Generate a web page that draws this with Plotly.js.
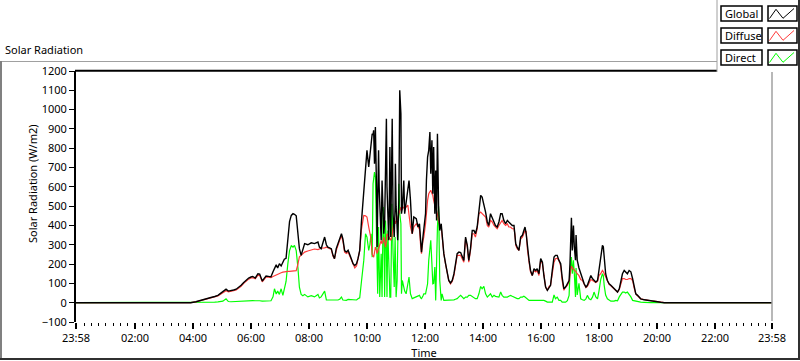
<!DOCTYPE html>
<html>
<head>
<meta charset="utf-8">
<script src="https://cdn.plot.ly/plotly-3.0.1.min.js"></script>
<style>html,body{margin:0;padding:0;background:#fff;}#chart{width:800px;height:361px;}</style>
</head>
<body>
<div id="chart"></div>
<script>
// Time in hours since midnight (-0.0333 = 23:58 of the previous day)
const timeHours = [-0.0333,3.92,4.10,4.28,4.45,4.62,4.75,4.86,4.95,5.03,5.14,5.22,5.31,5.40,5.49,5.58,5.66,5.75,5.83,5.92,6.00,6.06,6.15,6.24,6.30,6.39,6.45,6.52,6.60,6.69,6.76,6.81,6.87,6.92,6.98,7.04,7.10,7.15,7.21,7.27,7.33,7.39,7.45,7.50,7.56,7.62,7.67,7.73,7.79,7.85,7.96,8.08,8.19,8.31,8.36,8.42,8.54,8.60,8.65,8.77,8.83,8.88,8.94,9.00,9.06,9.12,9.17,9.23,9.29,9.35,9.46,9.52,9.58,9.64,9.69,9.75,9.81,
9.89,9.95,10.00,10.06,10.10,10.14,10.18,10.21,10.23,10.26,10.29,10.33,10.35,10.37,10.40,10.42,10.44,10.49,10.52,10.56,10.58,10.61,10.64,10.67,10.69,10.72,10.75,10.77,10.79,10.82,10.86,10.87,10.90,10.94,10.97,10.98,11.005,11.04,11.06,11.10,11.13,11.17,11.19,11.22,11.27,11.30,11.35,11.41,11.45,11.50,11.56,11.615,11.70,11.76,11.81,11.85,11.88,11.93,11.96,12.02,12.05,12.09,12.13,12.17,12.20,12.24,12.27,12.30,12.34,12.37,12.40,12.43,12.47,12.51,12.56,12.59,12.65,12.71,12.77,12.82,12.88,12.94,13.00,13.05,13.11,13.17,13.23,
13.34,13.40,13.46,13.51,13.57,13.63,13.69,13.74,13.80,13.86,13.92,13.97,14.03,14.09,14.15,14.20,14.26,14.32,14.38,14.43,14.49,14.55,14.61,14.66,14.72,14.78,14.84,14.89,14.95,15.01,15.07,15.10,15.13,15.18,15.24,15.30,15.36,15.41,15.45,15.49,15.53,15.59,15.64,15.70,15.76,15.82,15.87,15.93,15.99,16.05,16.10,16.16,16.22,16.28,16.33,16.39,16.45,16.50,16.56,16.62,16.68,16.73,16.79,16.85,16.91,16.97,17.00,17.05,17.08,17.12,17.15,17.19,17.21,17.25,17.31,17.37,17.43,17.49,17.55,17.60,17.66,17.72,17.78,17.83,17.89,17.95,18.00,18.06,18.12,18.15,18.18,18.23,18.29,18.35,18.41,18.47,18.52,18.58,18.64,18.70,18.75,18.81,18.87,18.92,18.98,19.04,19.10,19.16,19.21,19.27,19.33,19.39,19.44,19.56,19.67,19.79,19.90,20.02,20.13,20.25,23.9667];

const globalRad = [0,0,5,14,20,27,32,38,48,58,70,60,62,66,70,80,90,105,118,128,133,136,128,150,148,112,125,138,136,134,160,176,196,180,202,190,215,225,230,330,420,452,461,458,450,357,280,245,280,306,300,310,306,314,288,280,340,300,288,280,245,228,280,306,330,357,330,270,262,271,228,202,193,202,228,271,420,
582,737,789,703,772,849,875,870,893,720,910,582,288,500,789,600,495,323,633,500,357,420,720,953,600,409,323,500,806,340,700,953,461,340,500,720,500,392,323,530,1100,979,461,495,633,461,513,582,633,530,357,444,435,392,409,323,262,340,374,461,633,754,789,884,668,841,564,806,461,685,426,875,495,374,409,340,254,202,150,115,102,115,150,193,254,262,260,
219,340,297,219,280,374,374,357,392,495,556,547,513,469,418,400,461,435,418,400,392,418,461,461,426,409,426,418,409,400,400,357,305,288,271,340,349,374,392,357,288,219,167,141,176,167,176,150,228,210,141,81,64,81,90,167,236,245,245,219,202,133,72,81,98,115,200,440,270,400,290,220,350,220,180,150,130,98,81,90,115,141,124,115,107,115,167,236,297,290,219,150,115,98,90,81,72,64,55,72,115,150,167,160,150,167,160,124,81,46,38,29,20,15,12,8,6,5,2,0,0];

const diffuseRad = [0,0,4,12,18,25,30,35,44,52,62,56,58,62,66,75,85,100,112,122,128,130,124,143,142,108,120,134,132,130,136,140,142,145,150,155,158,160,160,162,162,163,164,165,166,200,238,245,255,262,268,275,278,275,280,282,284,288,285,275,240,228,270,300,325,345,320,262,255,262,220,195,180,190,220,270,380,
452,450,444,392,360,330,250,245,236,260,288,270,254,265,280,285,300,323,305,320,340,310,288,320,357,350,340,335,330,323,340,357,400,440,420,409,420,426,440,461,480,495,478,485,495,495,495,505,461,392,357,392,409,390,380,297,254,320,340,409,470,530,564,575,582,565,556,530,495,485,478,460,426,400,392,340,254,200,141,115,98,110,141,190,245,245,245,
210,332,288,210,271,357,357,340,383,461,469,461,452,444,400,392,426,418,400,392,383,400,418,426,409,400,409,392,392,383,383,355,297,280,271,331,340,366,374,368,280,210,159,141,167,159,167,141,219,202,133,81,64,84,90,150,210,228,230,219,190,115,64,81,90,110,150,190,180,175,170,165,160,150,140,120,115,95,78,85,100,120,115,110,104,110,140,150,167,160,150,140,115,95,88,78,70,62,55,68,100,125,125,120,120,125,125,115,78,45,36,28,20,16,12,10,8,6,3,0,0];

const directRad = [0,0,1,2,2,3,3,4,5,8,20,6,5,6,6,7,8,8,9,10,10,11,10,12,10,8,9,10,10,10,30,72,45,60,43,72,38,72,110,200,270,295,288,297,270,180,80,43,36,43,30,36,30,43,25,30,60,14,14,12,12,14,12,14,18,29,14,14,12,17,16,12,14,14,20,25,110,
219,357,340,271,300,357,236,616,660,677,651,357,288,46,392,200,29,254,29,495,426,29,426,300,29,374,200,64,29,29,513,450,254,81,340,200,29,115,300,616,461,409,46,115,81,60,46,115,133,46,21,25,29,33,38,25,21,35,46,46,70,98,219,300,323,200,98,100,185,12,250,392,500,115,12,46,12,12,12,12,12,15,15,18,21,30,38,
21,29,29,38,38,33,29,21,21,46,84,72,84,46,29,38,46,29,38,33,29,29,55,38,29,29,29,33,38,33,29,25,25,21,21,29,29,33,29,25,21,12,12,12,12,12,15,12,12,12,12,8,3,3,3,3,40,21,29,12,12,3,3,3,10,38,150,236,150,219,150,30,180,40,100,20,15,12,20,38,20,15,30,55,30,20,60,120,150,140,90,40,20,12,8,8,8,12,10,30,40,55,55,50,55,45,30,12,10,8,5,3,3,2,0,0,0,0,0,0,0];

const tickHours = [-0.0333,2,4,6,8,10,12,14,16,18,20,22,23.9667];
const tickLabels = ['23:58','02:00','04:00','06:00','08:00','10:00','12:00','14:00','16:00','18:00','20:00','22:00','23:58'];
const yTicks = [-100,0,100,200,300,400,500,600,700,800,900,1000,1100,1200];
const seriesNames = ['Global','Diffuse','Direct'];
const seriesColors = ['#000000','#ff3a3a','#00ff00'];

// geometry helpers (pixel -> paper)
const L = 76, T = 71, W = 696, H = 251;
const px = x => (x - L) / W;
const py = y => 1 - (y - T) / H;

const FONT = '"Noto Sans", "Open Sans", sans-serif';

const traces = [
  {x: timeHours, y: directRad, name: seriesNames[2], type: 'scatter', mode: 'lines', line: {color: seriesColors[2], width: 1.2}},
  {x: timeHours, y: diffuseRad, name: seriesNames[1], type: 'scatter', mode: 'lines', line: {color: seriesColors[1], width: 1.2}},
  {x: timeHours, y: globalRad, name: seriesNames[0], type: 'scatter', mode: 'lines', line: {color: seriesColors[0], width: 1.4}}
];

const shapes = [];
const line = (x0,y0,x1,y1,color,width) => shapes.push({type:'line', xref:'paper', yref:'paper', x0:px(x0), y0:py(y0), x1:px(x1), y1:py(y1), line:{color:color, width:width}, layer:'above'});
// outer frame
line(0,61.5,717,61.5,'#a0a0a0',1);
line(1,61,1,359,'#808080',2);
line(0,359,800,359,'#303030',2);
line(799,0,799,359,'#303030',2);
// plot frame
line(75,70.8,772,70.8,'#000',2);
line(772,71,772,321,'#a0a0a0',1.5);
// legend panel
shapes.push({type:'rect', xref:'paper', yref:'paper', x0:px(717), x1:px(800), y0:py(0), y1:py(72), fillcolor:'#fff', line:{width:0}, layer:'above'});
line(717,0,717,72,'#a0a0a0',1);
line(799,0,799,72,'#303030',2);

const annotations = [];
const rowTop = [6, 28, 50];
for (let i = 0; i < 3; i++) {
  const t = rowTop[i];
  shapes.push({type:'rect', xref:'paper', yref:'paper', x0:px(721), x1:px(762), y0:py(t), y1:py(t+15), fillcolor:'#fff', line:{color:'#000', width:1.5}, layer:'above'});
  shapes.push({type:'rect', xref:'paper', yref:'paper', x0:px(768), x1:px(797), y0:py(t), y1:py(t+15), fillcolor:'#fff', line:{color:'#000', width:1.5}, layer:'above'});
  const pts = [[769.5,t+12.5],[776,t+3.3],[783,t+12.3],[794,t+2.5]];
  const path = 'M ' + pts.map(p => px(p[0]) + ',' + py(p[1])).join(' L ');
  shapes.push({type:'path', xref:'paper', yref:'paper', path:path, line:{color:seriesColors[i], width:1}, layer:'above'});
  annotations.push({xref:'paper', yref:'paper', x:px(723), y:py(t+7.5), xanchor:'left', yanchor:'middle', text:seriesNames[i], showarrow:false, font:{family:FONT, size:11, color:'#000'}});
}
// y-axis title (placed as in the reference, slightly above the axis centre)
annotations.push({xref:'paper', yref:'paper', x:px(32), y:py(183), xanchor:'center', yanchor:'middle', textangle:-90, text:'Solar Radiation (W/m2)', showarrow:false, font:{family:FONT, size:11, color:'#000'}});

const layout = {
  width: 800, height: 361,
  margin: {l: L, r: 800 - L - W, t: T, b: 361 - T - H, pad: 0},
  paper_bgcolor: '#fff', plot_bgcolor: '#fff',
  showlegend: false,
  font: {family: FONT, size: 11, color: '#000'},
  title: {text: 'Solar Radiation', x: 5/800, xref: 'container', xanchor: 'left', y: 1 - 50/361, yref: 'container', yanchor: 'middle', font: {family: FONT, size: 11, color: '#000'}},
  xaxis: {
    range: [-0.0333, 23.9667], tickmode: 'array', tickvals: tickHours, ticktext: tickLabels,
    ticks: 'outside', ticklen: 6, tickwidth: 1.5, tickcolor: '#000',
    showgrid: false, zeroline: false, showline: false,
    tickfont: {family: FONT, size: 11, color: '#000'},
    minor: {tickmode: 'linear', tick0: 0, dtick: 0.25, ticks: 'outside', ticklen: 3, tickwidth: 1, tickcolor: '#000', showgrid: false},
    title: {text: 'Time', font: {family: FONT, size: 11, color: '#000'}, standoff: 4},
    automargin: false, fixedrange: true
  },
  yaxis: {
    range: [-100, 1200], tickmode: 'array', tickvals: yTicks,
    ticks: 'outside', ticklen: 5, tickwidth: 1, tickcolor: '#000',
    showgrid: false, zeroline: false, showline: true, linecolor: '#000', linewidth: 2,
    tickfont: {family: FONT, size: 11, color: '#000'},
    automargin: false, fixedrange: true
  },
  shapes: shapes,
  annotations: annotations
};

Plotly.newPlot('chart', traces, layout, {staticPlot: true, displayModeBar: false});
</script>
</body>
</html>
